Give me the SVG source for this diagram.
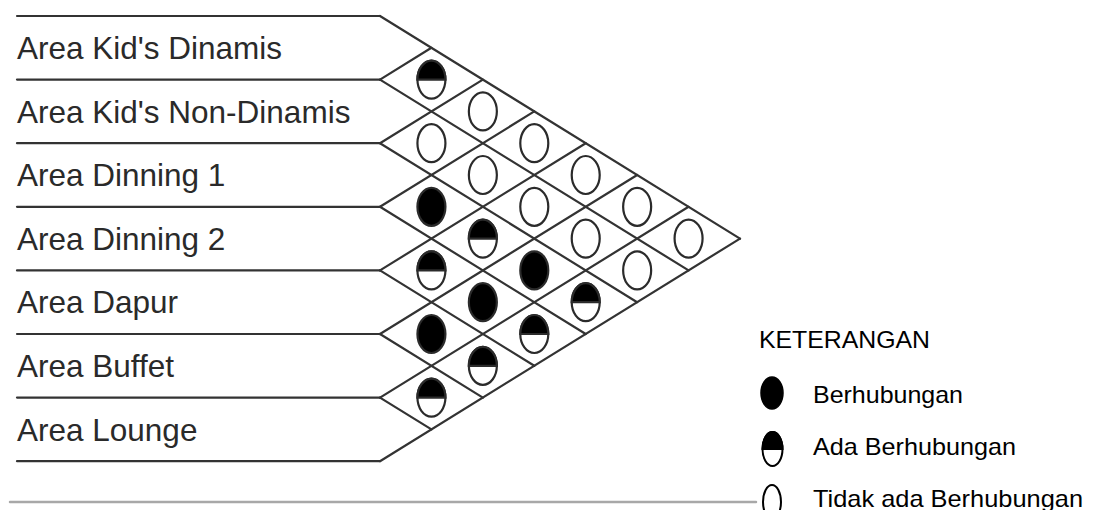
<svg xmlns="http://www.w3.org/2000/svg" xmlns:xlink="http://www.w3.org/1999/xlink" width="1095" height="510" viewBox="0 0 1095 510">
<style>
.ln{stroke:#333;stroke-width:2.2;fill:none;stroke-linecap:round}
.lbl{font-family:"Liberation Sans",Arial,sans-serif;font-size:31.5px;fill:#2a2a2a}
.leg{font-family:"Liberation Sans",Arial,sans-serif;font-size:24px;fill:#000}
.cell{stroke:#2b2b2b;stroke-width:2.2;fill:#fff}
.base{stroke:#a8a8a8;stroke-width:2.5}
</style>
<defs>
<ellipse id="empty" class="cell" cx="0" cy="0" rx="14" ry="19"/>
<ellipse id="filled" class="cell" cx="0" cy="0" rx="14" ry="19" style="fill:#000"/>
<g id="half">
<ellipse class="cell" cx="0" cy="0" rx="14" ry="19"/>
<path d="M-14,0 A14,19 0 0 1 14,0 Z" fill="#000" stroke="#2b2b2b" stroke-width="2.2"/>
</g>
</defs>
<rect width="1095" height="510" fill="#fff"/>
<g id="connectors" class="ln">
<line x1="17" y1="16" x2="380" y2="16"/>
<line x1="17" y1="79.6" x2="380" y2="79.6"/>
<line x1="17" y1="143.2" x2="380" y2="143.2"/>
<line x1="17" y1="206.8" x2="380" y2="206.8"/>
<line x1="17" y1="270.4" x2="380" y2="270.4"/>
<line x1="17" y1="334" x2="380" y2="334"/>
<line x1="17" y1="397.6" x2="380" y2="397.6"/>
<line x1="17" y1="461.2" x2="380" y2="461.2"/>
<line x1="380" y1="16" x2="740" y2="238.6"/>
<line x1="380" y1="79.6" x2="688.58" y2="270.4"/>
<line x1="380" y1="143.2" x2="637.15" y2="302.2"/>
<line x1="380" y1="206.8" x2="585.72" y2="334"/>
<line x1="380" y1="270.4" x2="534.29" y2="365.8"/>
<line x1="380" y1="334" x2="482.86" y2="397.6"/>
<line x1="380" y1="397.6" x2="431.43" y2="429.4"/>
<line x1="380" y1="79.6" x2="431.43" y2="47.8"/>
<line x1="380" y1="143.2" x2="482.86" y2="79.6"/>
<line x1="380" y1="206.8" x2="534.29" y2="111.4"/>
<line x1="380" y1="270.4" x2="585.72" y2="143.2"/>
<line x1="380" y1="334" x2="637.15" y2="175"/>
<line x1="380" y1="397.6" x2="688.58" y2="206.8"/>
<line x1="380" y1="461.2" x2="740" y2="238.6"/>
<line class="base" x1="10" y1="502" x2="756" y2="502"/>
</g>
<g id="row-kids-dinamis"><text class="lbl" x="17" y="59">Area Kid's Dinamis</text></g>
<g id="row-kids-non-dinamis"><text class="lbl" x="17" y="122.6">Area Kid's Non-Dinamis</text></g>
<g id="row-dinning-1"><text class="lbl" x="17" y="186.2">Area Dinning 1</text></g>
<g id="row-dinning-2"><text class="lbl" x="17" y="249.8">Area Dinning 2</text></g>
<g id="row-dapur"><text class="lbl" x="17" y="313.4">Area Dapur</text></g>
<g id="row-buffet"><text class="lbl" x="17" y="377">Area Buffet</text></g>
<g id="row-lounge"><text class="lbl" x="17" y="440.6">Area Lounge</text></g>
<g id="cells">
<g id="c01"><use xlink:href="#half" href="#half" x="431.43" y="79.6"/></g>
<g id="c12"><use xlink:href="#empty" href="#empty" x="431.43" y="143.2"/></g>
<g id="c23"><use xlink:href="#filled" href="#filled" x="431.43" y="206.8"/></g>
<g id="c34"><use xlink:href="#half" href="#half" x="431.43" y="270.4"/></g>
<g id="c45"><use xlink:href="#filled" href="#filled" x="431.43" y="334"/></g>
<g id="c56"><use xlink:href="#half" href="#half" x="431.43" y="397.6"/></g>
<g id="c02"><use xlink:href="#empty" href="#empty" x="482.86" y="111.4"/></g>
<g id="c13"><use xlink:href="#empty" href="#empty" x="482.86" y="175"/></g>
<g id="c24"><use xlink:href="#half" href="#half" x="482.86" y="238.6"/></g>
<g id="c35"><use xlink:href="#filled" href="#filled" x="482.86" y="302.2"/></g>
<g id="c46"><use xlink:href="#half" href="#half" x="482.86" y="365.8"/></g>
<g id="c03"><use xlink:href="#empty" href="#empty" x="534.29" y="143.2"/></g>
<g id="c14"><use xlink:href="#empty" href="#empty" x="534.29" y="206.8"/></g>
<g id="c25"><use xlink:href="#filled" href="#filled" x="534.29" y="270.4"/></g>
<g id="c36"><use xlink:href="#half" href="#half" x="534.29" y="334"/></g>
<g id="c04"><use xlink:href="#empty" href="#empty" x="585.72" y="175"/></g>
<g id="c15"><use xlink:href="#empty" href="#empty" x="585.72" y="238.6"/></g>
<g id="c26"><use xlink:href="#half" href="#half" x="585.72" y="302.2"/></g>
<g id="c05"><use xlink:href="#empty" href="#empty" x="637.15" y="206.8"/></g>
<g id="c16"><use xlink:href="#empty" href="#empty" x="637.15" y="270.4"/></g>
<g id="c06"><use xlink:href="#empty" href="#empty" x="688.58" y="238.6"/></g>
</g>
<g id="legend">
<text class="leg" x="759" y="348" textLength="171" lengthAdjust="spacingAndGlyphs">KETERANGAN</text>
<g id="legend-berhubungan">
<ellipse cx="772" cy="393" rx="11" ry="16" fill="#000" stroke="#000" stroke-width="1.5"/>
<text class="leg" x="813" y="403" textLength="150" lengthAdjust="spacingAndGlyphs">Berhubungan</text>
</g>
<g id="legend-ada">
<ellipse cx="772.5" cy="449" rx="10" ry="17" fill="#fff" stroke="#000" stroke-width="2"/>
<path d="M762.5,449 A10,17 0 0 1 782.5,449 Z" fill="#000" stroke="#000" stroke-width="2"/>
<text class="leg" x="813" y="455" textLength="203" lengthAdjust="spacingAndGlyphs">Ada Berhubungan</text>
</g>
<g id="legend-tidak">
<ellipse cx="772" cy="502" rx="9" ry="17" fill="#fff" stroke="#000" stroke-width="2"/>
<text class="leg" x="813" y="507" textLength="270" lengthAdjust="spacingAndGlyphs">Tidak ada Berhubungan</text>
</g>
</g>
</svg>
